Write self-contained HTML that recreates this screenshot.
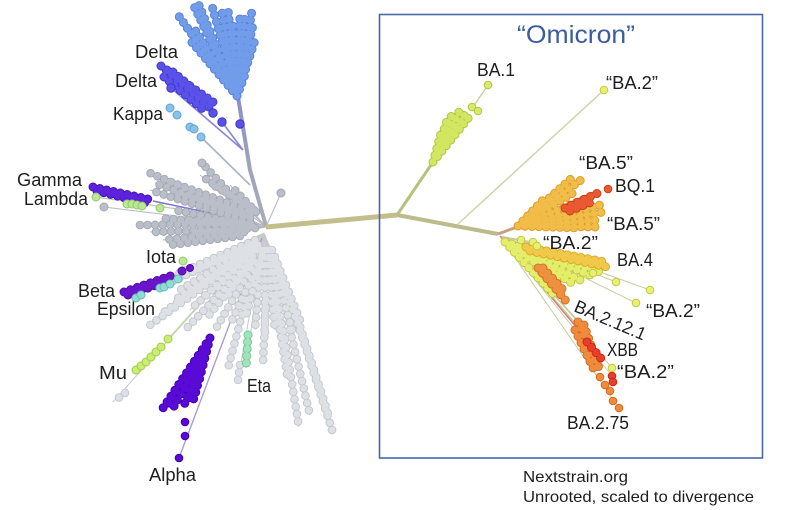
<!DOCTYPE html>
<html><head><meta charset="utf-8"><style>
html,body{margin:0;padding:0;background:#fff;}
svg{display:block;}
.o{fill:none;stroke-linecap:round;stroke-dasharray:0 7;stroke-width:9}
.f{fill:none;stroke-linecap:round;stroke-dasharray:0 7;stroke-width:7.2}
.og{fill:none;stroke-linecap:round;stroke-dasharray:0 7.5;stroke-width:8.6}
.fg{fill:none;stroke-linecap:round;stroke-dasharray:0 7.5;stroke-width:6.8}
.t{font-family:"Liberation Sans",sans-serif;font-size:18px;fill:#1e1e1e}
</style></head><body>
<svg width="785" height="510" viewBox="0 0 785 510" xmlns="http://www.w3.org/2000/svg">
<defs>
<linearGradient id="tr" x1="0" y1="227" x2="0" y2="97" gradientUnits="userSpaceOnUse">
<stop offset="0" stop-color="#a9adb6"/><stop offset="0.5" stop-color="#9ea2bc"/><stop offset="1" stop-color="#8a8ecc"/></linearGradient>
<path id="ug" d="M240 212L150 173M244 216L155 183M248 210L165 180M250 208L200 175M254 210L210 183M256 212L230 185M242 220L150 190M245 224L140 225M246 229L150 232M244 232L163 240M240 236L170 245M250 222L185 220M250 218L180 200M236 200L202 163M252 226L175 210M255 228L195 232M250 215L172 192M248 226L160 218"/>
<path id="lg" d="M255 240L175 275M254 243L165 285M252 246L175 300M250 250L160 315M248 255L150 325M245 260L190 310M250 255L200 300M255 250L215 290M257 250L225 300M246 300L228 368M240 365L238 380M262 250L255 330M265 250L265 340M267 250L275 330M268 250L285 340M270 250L292 330M272 250L300 320M266 300L263 363M275 300L288 380M285 340L299 427M290 330L310 415M300 330L333 433M298 320L330 420M275 260L305 345M125 393L113 402M252 262L205 320M250 262L185 330M255 262L215 330M258 265L232 320M245 250L180 290M262 255L245 320M258 245L195 270M270 258L280 300"/>
<path id="dl" d="M237 96L178 15M237 96L185 25M237 96L190 40M237 96L193 4M237 96L198 3M237 96L205 20M237 96L212 6M237 96L218 22M237 96L222 12M237 96L228 9M237 96L233 25M237 96L240 14M237 96L245 15M237 96L252 11M237 96L253 25M237 96L255 40M237 96L250 55M237 96L246 72M237 96L200 45M237 96L212 45M237 96L225 40M237 96L240 40M237 96L195 30M237 96L207 60M237 96L230 60"/>
<path id="d2" d="M161 66L210 108M167 70L213 102M164 77L206 112M173 72L214 106"/>
<path id="gm" d="M93 187L152 200M97 191L150 204"/>
<path id="bt" d="M124 292L173 275M128 295L168 281"/>
<path id="al" d="M210 338L163 408M210 338L168 404M210 338L172 410M210 338L178 400M210 338L183 408M210 338L188 402M210 338L192 405M210 338L195 395M210 338L198 385M210 338L175 392M210 338L185 390"/>
<path id="et" d="M248 335L246 368"/>
<path id="b1" d="M433 162L453 112M433 162L460 110M433 162L466 113M433 162L470 116M433 162L448 118M433 162L458 122M433 162L442 130"/>
<path id="b5" d="M518 226L573 177M518 226L585 177M518 226L565 185M518 226L578 190M518 226L590 197M518 226L600 205M518 226L603 212M518 226L600 220M518 226L597 227M518 226L580 228M518 226L550 212M518 226L545 198M518 226L560 200"/>
<path id="bq" d="M565 208L598 193M570 211L594 201"/>
<path id="b4" d="M526 247L605 262M530 251L612 268"/>
<path id="yl" d="M505 242L590 275M505 242L580 280M505 242L570 276M505 242L560 280M505 242L600 272M505 242L575 285M505 242L555 296"/>
<path id="bo" d="M538 268L566 301M543 268L565 292"/>
<path id="or" d="M578 322L600 370M584 325L596 360M575 330L595 372"/>
<path id="xb" d="M587 342L605 363"/>
</defs>

<g stroke="#b4b8c0" stroke-width="1" fill="none">
<path d="M266 227L202 163M266 227L150 173M266 227L155 183M266 227L165 180M266 227L200 175M266 227L210 183M266 227L230 185M266 227L150 190M266 227L104 207M266 227L140 225M266 227L150 232M266 227L163 240M266 227L170 245M266 227L185 220M266 227L180 200M266 227L281 193"/>
</g>
<g stroke="#c6c9cf" stroke-width="1" fill="none">
<path d="M264 233L175 275M264 233L165 285M264 233L175 300M264 233L160 315M264 233L150 325M264 233L190 310M264 233L200 300M264 233L215 290M264 233L225 300M264 233L113 402M264 233L228 368M264 233L238 380M264 233L255 330M264 233L265 340M264 233L275 330M264 233L285 340M264 233L292 330M264 233L300 320M264 233L263 363M264 233L288 380M264 233L299 427M264 233L310 415M264 233L333 433M264 233L330 420M264 233L305 345M264 233L246 368M264 233L185 330M264 233L215 330"/>
</g>
<path d="M264 233L168 339" stroke="#c8d8a0" stroke-width="1.2" fill="none"/>
<path d="M262 238L179 458" stroke="#a098d8" stroke-width="1.3" fill="none"/>
<path d="M201 137L250 185" stroke="#a8b4c8" stroke-width="1.6" fill="none"/>
<path d="M171 88L243 150M222 122L243 150" stroke="#8a86d0" stroke-width="1.6" fill="none"/>
<path d="M153 201L215 214" stroke="#8070d8" stroke-width="1.5" fill="none"/>
<path d="M96 197L225 216" stroke="#b8c8a8" stroke-width="1.2" fill="none"/>
<path d="M190 268L215 262" stroke="#8a60d0" stroke-width="1.3" fill="none"/>

<path d="M266 226L250 170L238 97" stroke="url(#tr)" stroke-width="4" fill="none" stroke-linejoin="round"/>
<path d="M266 227L397 215" stroke="#c2bf8c" stroke-width="5" fill="none"/>
<path d="M397 215L433 162" stroke="#b8c080" stroke-width="3" fill="none"/>
<path d="M397 215L498 234" stroke="#bcbb8c" stroke-width="4" fill="none"/>
<path d="M498 234L517 227" stroke="#c8a080" stroke-width="3" fill="none"/>
<path d="M458 224L604 90" stroke="#d0d4a8" stroke-width="1.5" fill="none"/>
<path d="M473 107L488 85" stroke="#c8d090" stroke-width="1.3" fill="none"/>
<g stroke="#c8cca0" stroke-width="1" fill="none">
<path d="M500 236L521 240M500 236L533 242M500 236L540 245M500 236L600 262M500 236L650 290M500 236L636 303M500 236L616 282M500 236L593 273M500 236L578 322M500 236L582 325M500 236L590 340M500 236L605 360M500 236L612 376M500 236L619 408M500 236L612 368"/>
</g>
<path d="M500 236L595 350M500 236L600 355" stroke="#d08080" stroke-width="1" fill="none"/>

<use href="#ug" class="og" stroke="#a2a7b2"/><use href="#ug" class="fg" stroke="#babec8"/>
<use href="#lg" class="og" stroke="#c2c6cc"/><use href="#lg" class="fg" stroke="#dde0e5"/>
<g fill="#babec8" stroke="#a2a7b2" stroke-width="1"><circle cx="281" cy="193" r="4"/><circle cx="104" cy="207" r="4"/><circle cx="202" cy="163" r="4"/></g>

<use href="#dl" class="o" stroke="#5580d8"/><use href="#dl" class="f" stroke="#719cea"/>
<use href="#d2" class="o" stroke="#3e36c8"/><use href="#d2" class="f" stroke="#5a52e8"/>
<g fill="#5a52e8" stroke="#3e36c8" stroke-width="1"><circle cx="171" cy="88" r="4.2"/><circle cx="213" cy="113" r="4.2"/><circle cx="222" cy="122" r="4.2"/><circle cx="240" cy="124" r="4.2"/></g>
<g fill="#88c2e8" stroke="#62a2d2" stroke-width="1"><circle cx="170" cy="108" r="4"/><circle cx="177" cy="115" r="4"/><circle cx="190" cy="127" r="4"/><circle cx="194" cy="129" r="4"/><circle cx="201" cy="137" r="4"/></g>
<use href="#gm" class="o" stroke="#4212b8"/><use href="#gm" class="f" stroke="#5c22dc"/>
<g fill="#bbe894" stroke="#92c86c" stroke-width="1"><circle cx="96" cy="197" r="4"/><circle cx="127" cy="204" r="4"/><circle cx="132" cy="204" r="4"/><circle cx="137" cy="205" r="4"/><circle cx="142" cy="206" r="4"/><circle cx="160" cy="208" r="4"/><circle cx="183" cy="261" r="4"/></g>
<use href="#bt" class="o" stroke="#4e0aa0"/><use href="#bt" class="f" stroke="#6a14cc"/>
<g fill="#6a14cc" stroke="#4e0aa0" stroke-width="1"><circle cx="182" cy="271" r="4"/><circle cx="190" cy="268" r="3.5"/></g>
<g fill="#92dcd6" stroke="#66bcb6" stroke-width="1"><circle cx="136" cy="298" r="4"/><circle cx="141" cy="295" r="4"/><circle cx="160" cy="288" r="4"/><circle cx="164" cy="287" r="4"/><circle cx="170" cy="284" r="4"/><circle cx="178" cy="279" r="4"/></g>
<g fill="#caee72" stroke="#a2ca52" stroke-width="1"><circle cx="136" cy="370" r="4"/><circle cx="141" cy="366" r="4"/><circle cx="146" cy="362" r="4"/><circle cx="151" cy="357" r="4"/><circle cx="156" cy="352" r="4"/><circle cx="161" cy="347" r="4"/><circle cx="168" cy="339" r="4"/></g>
<use href="#al" class="o" stroke="#3f00a8"/><use href="#al" class="f" stroke="#5a0ad6"/>
<g fill="#5a0ad6" stroke="#3f00a8" stroke-width="1"><circle cx="185" cy="422" r="3.8"/><circle cx="185" cy="436" r="3.8"/><circle cx="179" cy="458" r="3.8"/></g>
<use href="#et" class="o" stroke="#74c494"/><use href="#et" class="f" stroke="#a0e4bc"/>

<use href="#b1" class="o" stroke="#aec440"/><use href="#b1" class="f" stroke="#d2e662"/>
<g fill="#d8ea66" stroke="#b0c444" stroke-width="1"><circle cx="472" cy="107" r="3.8"/><circle cx="478" cy="111" r="3.8"/><circle cx="488" cy="85" r="3.8"/></g>
<circle cx="604" cy="90" r="3.8" fill="#e8f070" stroke="#c2c846"/>
<use href="#b5" class="o" stroke="#d99c2a"/><use href="#b5" class="f" stroke="#f2bc48"/>
<use href="#bq" class="o" stroke="#c83c1a"/><use href="#bq" class="f" stroke="#ea5a32"/>
<circle cx="608" cy="189" r="3.8" fill="#ea5a32" stroke="#c83c1a"/>
<use href="#yl" class="o" stroke="#c0c642"/><use href="#yl" class="f" stroke="#e4ee6a"/>
<use href="#b4" class="o" stroke="#d8a828"/><use href="#b4" class="f" stroke="#f2c84a"/>
<g fill="#e8f070" stroke="#c2c846" stroke-width="1"><circle cx="521" cy="240" r="3.8"/><circle cx="533" cy="242" r="3.8"/><circle cx="537" cy="246" r="3.8"/><circle cx="616" cy="282" r="3.8"/><circle cx="636" cy="303" r="3.8"/><circle cx="650" cy="290" r="3.8"/><circle cx="593" cy="273" r="3.8"/><circle cx="612" cy="368" r="3.8"/></g>
<use href="#bo" class="o" stroke="#d07020"/><use href="#bo" class="f" stroke="#ef9040"/>
<use href="#or" class="o" stroke="#d06c1e"/><use href="#or" class="f" stroke="#f08a3c"/>
<g fill="#f08a3c" stroke="#d06c1e" stroke-width="1"><circle cx="600" cy="377" r="3.8"/><circle cx="605" cy="385" r="3.8"/><circle cx="610" cy="391" r="3.8"/><circle cx="613" cy="401" r="3.8"/><circle cx="619" cy="408" r="3.8"/></g>
<use href="#xb" class="o" stroke="#c42614"/><use href="#xb" class="f" stroke="#ea3e2a"/>
<g fill="#ea3e2a" stroke="#c42614" stroke-width="1"><circle cx="612" cy="376" r="3.8"/><circle cx="613" cy="382" r="3.8"/></g>

<rect x="379.5" y="14.5" width="383" height="443.5" fill="none" stroke="#4a68a8" stroke-width="1.6"/>
<text x="517" y="43" textLength="118" lengthAdjust="spacingAndGlyphs" style="font-family:'Liberation Sans',sans-serif;font-size:25px;fill:#3b5c9e">“Omicron”</text>

<text class="t" x="135" y="58" textLength="43" lengthAdjust="spacingAndGlyphs">Delta</text>
<text class="t" x="115" y="87" textLength="42" lengthAdjust="spacingAndGlyphs">Delta</text>
<text class="t" x="113" y="120" textLength="50" lengthAdjust="spacingAndGlyphs">Kappa</text>
<text class="t" x="17" y="186" textLength="65" lengthAdjust="spacingAndGlyphs">Gamma</text>
<text class="t" x="24" y="205" textLength="64" lengthAdjust="spacingAndGlyphs">Lambda</text>
<text class="t" x="146" y="263" textLength="30" lengthAdjust="spacingAndGlyphs">Iota</text>
<text class="t" x="78" y="297" textLength="37" lengthAdjust="spacingAndGlyphs">Beta</text>
<text class="t" x="97" y="315" textLength="58" lengthAdjust="spacingAndGlyphs">Epsilon</text>
<text class="t" x="99" y="379" textLength="28" lengthAdjust="spacingAndGlyphs">Mu</text>
<text class="t" x="247" y="392" textLength="24" lengthAdjust="spacingAndGlyphs">Eta</text>
<text class="t" x="149" y="481" textLength="47" lengthAdjust="spacingAndGlyphs">Alpha</text>

<text class="t" x="477" y="76" textLength="38" lengthAdjust="spacingAndGlyphs">BA.1</text>
<text class="t" x="606" y="89" textLength="52" lengthAdjust="spacingAndGlyphs">“BA.2”</text>
<text class="t" x="579" y="169" textLength="54" lengthAdjust="spacingAndGlyphs">“BA.5”</text>
<text class="t" x="615" y="192" textLength="40" lengthAdjust="spacingAndGlyphs">BQ.1</text>
<text class="t" x="607" y="230" textLength="53" lengthAdjust="spacingAndGlyphs">“BA.5”</text>
<text class="t" x="543" y="249" textLength="55" lengthAdjust="spacingAndGlyphs">“BA.2”</text>
<text class="t" x="617" y="266" textLength="36" lengthAdjust="spacingAndGlyphs">BA.4</text>
<text class="t" x="646" y="317" textLength="54" lengthAdjust="spacingAndGlyphs">“BA.2”</text>
<text class="t" x="573" y="311" textLength="76" lengthAdjust="spacingAndGlyphs" transform="rotate(23 573 311)">BA.2.12.1</text>
<text class="t" x="607" y="356" textLength="31" lengthAdjust="spacingAndGlyphs">XBB</text>
<text class="t" x="617" y="378" textLength="57" lengthAdjust="spacingAndGlyphs">“BA.2”</text>
<text class="t" x="567" y="429" textLength="62" lengthAdjust="spacingAndGlyphs">BA.2.75</text>

<text x="523" y="482" textLength="105" lengthAdjust="spacingAndGlyphs" style="font-family:'Liberation Sans',sans-serif;font-size:16px;fill:#1e1e1e">Nextstrain.org</text>
<text x="523" y="502" textLength="231" lengthAdjust="spacingAndGlyphs" style="font-family:'Liberation Sans',sans-serif;font-size:16px;fill:#1e1e1e">Unrooted, scaled to divergence</text>
</svg>
</body></html>
